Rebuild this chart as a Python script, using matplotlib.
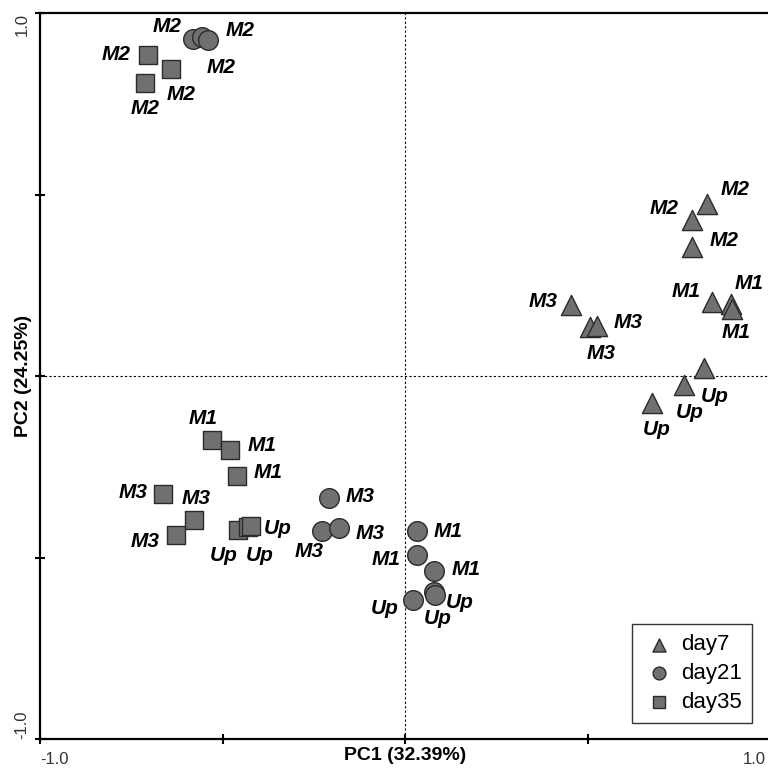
import matplotlib.pyplot as plt
from matplotlib.transforms import ScaledTranslation

plt.rcParams['font.family'] = ['Liberation Sans', 'DejaVu Sans']

# PCA scores
day7_x = [0.827, 0.786, 0.786, 0.455, 0.507, 0.526, 0.841, 0.893, 0.896, 0.819, 0.764, 0.677]
day7_y = [0.475, 0.431, 0.356, 0.196, 0.135, 0.138, 0.204, 0.199, 0.185, 0.022, -0.025, -0.075]
day7_lab = ['M2', 'M2', 'M2', 'M3', 'M3', 'M3', 'M1', 'M1', 'M1', 'Up', 'Up', 'Up']

day21_x = [-0.581, -0.556, -0.540, -0.208, -0.227, -0.181, 0.033, 0.033, 0.079, 0.022, 0.079, 0.082]
day21_y = [0.928, 0.934, 0.925, -0.337, -0.428, -0.420, -0.428, -0.494, -0.536, -0.616, -0.594, -0.602]
day21_lab = ['M2', 'M2', 'M2', 'M3', 'M3', 'M3', 'M1', 'M1', 'M1', 'Up', 'Up', 'Up']

day35_x = [-0.704, -0.641, -0.712, -0.529, -0.479, -0.460, -0.663, -0.578, -0.627, -0.458, -0.430, -0.422]
day35_y = [0.884, 0.845, 0.807, -0.177, -0.204, -0.276, -0.326, -0.398, -0.439, -0.423, -0.417, -0.414]
day35_lab = ['M2', 'M2', 'M2', 'M1', 'M1', 'M1', 'M3', 'M3', 'M3', 'Up', 'Up', 'Up']

# label offsets (pixels) for each point
day7_off = [(28, 14), (-28, 11), (32, 6), (-28, 3), (11, -27), (31, 3),
            (-26, 10), (18, 20), (4, -24), (11, -28), (6, -27), (5, -26)]
day21_off = [(-26, 13), (19, -31), (32, 10), (31, 2), (-13, -20), (31, -5),
             (31, 0), (-31, -4), (32, 1), (-28, -9), (4, -27), (25, -8)]
day35_off = [(-32, 1), (10, -25), (0, -25), (-9, 22), (32, 5), (31, 4),
             (-30, 2), (2, 22), (-31, -6), (-14, -26), (12, -28), (27, -2)]

face = '#707070'
edge = '#2b2b2b'

fig = plt.figure(figsize=(7.68, 7.69), dpi=100)
ax = fig.add_axes([40 / 768, 30 / 769, 730 / 768, 726 / 769])

ax.axvline(0, color='black', lw=0.8, ls=(0, (2, 2)), zorder=1)
ax.axhline(0, color='black', lw=0.8, ls=(0, (2, 2)), zorder=1)

groups = [
    (day7_x, day7_y, day7_lab, day7_off, '^', 210, 'day7'),
    (day21_x, day21_y, day21_lab, day21_off, 'o', 200, 'day21'),
    (day35_x, day35_y, day35_lab, day35_off, 's', 150, 'day35'),
]
for xs, ys, labs, offs, mk, size, name in groups:
    ax.scatter(xs, ys, marker=mk, s=size, c=face, edgecolors=edge, linewidths=1,
               zorder=3, label=name)
    for x, y, t, (dx, dy) in zip(xs, ys, labs, offs):
        ax.annotate(t, (x, y), xytext=(dx, dy), textcoords='offset pixels',
                    ha='center', va='center', fontsize=15, fontweight='bold',
                    fontstyle='italic', zorder=4)

ax.set_xlim(-1, 1)
ax.set_ylim(-1, 1)
ax.set_xticks([-1, -0.5, 0, 0.5, 1])
ax.set_yticks([-1, -0.5, 0, 0.5, 1])
ax.set_xticklabels(['-1.0', '', '', '', '1.0'])
ax.set_yticklabels(['-1.0', '', '', '', '1.0'], rotation=90, va='center')
ax.tick_params(direction='inout', length=7, width=1.5, labelsize=12,
               labelcolor='#333333', pad=6)
ax.tick_params(axis='y', pad=4)

xl = ax.get_xticklabels()
xl[0].set_ha('left')
xl[-1].set_ha('right')
# the axes runs past the right edge, pull "1.0" back inside
xl[-1].set_transform(xl[-1].get_transform() + ScaledTranslation(-4 / 100, 0, fig.dpi_scale_trans))
yl = ax.get_yticklabels()
yl[0].set_va('bottom')
yl[-1].set_va('top')

for s in ['left', 'bottom', 'top']:
    ax.spines[s].set_linewidth(1.6)
ax.spines['right'].set_visible(False)

# axis titles share the row/column with the tick labels
ax.set_xlabel('PC1 (32.39%)', fontsize=14, fontweight='bold', va='center')
ax.xaxis.set_label_coords(0.5, -17 / 726)
ax.set_ylabel('PC2 (24.25%)', fontsize=14, fontweight='bold', va='center')
ax.yaxis.set_label_coords(-16 / 730, 0.5)

leg = ax.legend(loc='lower right', bbox_to_anchor=(0.975, 0.022), borderaxespad=0,
                fontsize=16, frameon=True, fancybox=False, edgecolor='black',
                handletextpad=0.25, handlelength=1.5, markerscale=0.65,
                labelspacing=0.35, borderpad=0.45)
leg.get_frame().set_linewidth(1.0)

fig.savefig('out.png', dpi=100)
